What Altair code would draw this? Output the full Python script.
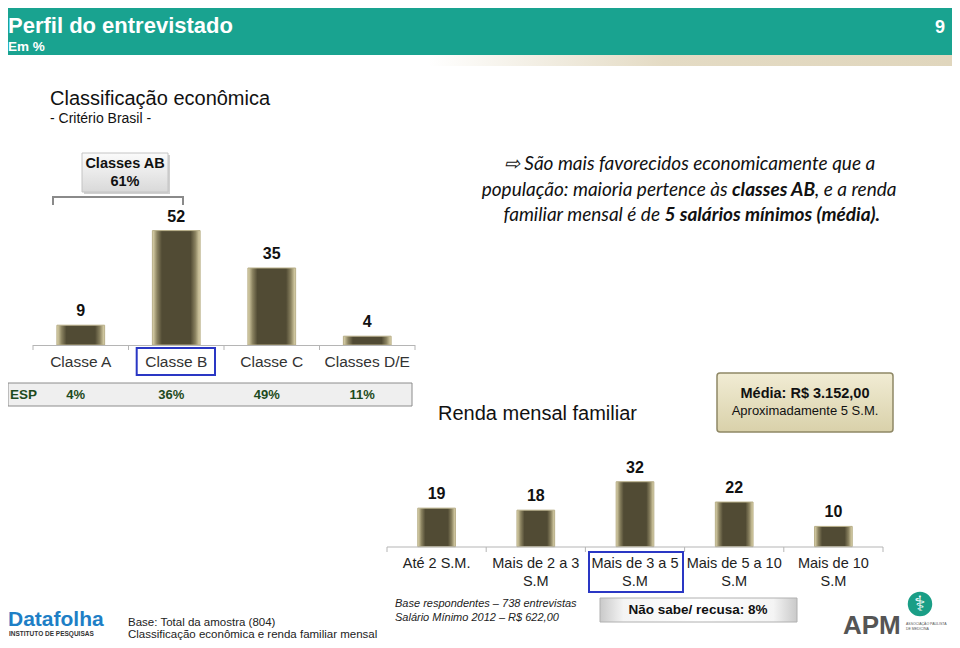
import altair as alt
import pandas as pd

# ---------------- data ----------------
classes = ["Classe A", "Classe B", "Classe C", "Classes D/E"]
classes_pct = [9, 52, 35, 4]
esp_pct = ["4%", "36%", "49%", "11%"]

renda_faixas = ["Até 2 S.M.", "Mais de 2 a 3\nS.M", "Mais de 3 a 5\nS.M",
                "Mais de 5 a 10\nS.M", "Mais de 10\nS.M"]
renda_pct = [19, 18, 32, 22, 10]

FONT = "Liberation Sans"
CALLOUT_FONT = "Lato"

df_cls = pd.DataFrame({"classe": classes, "pct": classes_pct, "esp": esp_pct})
df_ren = pd.DataFrame({"faixa": renda_faixas, "pct": renda_pct})
one = pd.DataFrame({"k": [0]})

# ---------------- scales ----------------
x_cls = alt.Scale(domain=classes, range=[25, 407], paddingInner=0.5, paddingOuter=0.25)
x_cls_grid = alt.Scale(domain=classes, range=[25, 407], paddingInner=0, paddingOuter=0)
y_cls = alt.Scale(domain=[0, 60], range=[337, 337 - 60 * 2.2])

x_ren = alt.Scale(domain=renda_faixas, range=[379, 875], paddingInner=0.62, paddingOuter=0.31)
x_ren_grid = alt.Scale(domain=renda_faixas, range=[379, 875], paddingInner=0, paddingOuter=0)
y_ren = alt.Scale(domain=[0, 40], range=[538.7, 538.7 - 40 * 2.03])


def grad(stops, horizontal=True):
    return alt.Gradient(
        gradient="linear",
        x1=0, y1=0,
        x2=1 if horizontal else 0,
        y2=0 if horizontal else 1,
        stops=[alt.GradientStop(offset=o, color=c) for o, c in stops],
    )


bar_fill = grad([(0, "#e2d9b0"), (0.1, "#8a8260"), (0.2, "#514b34"),
                 (0.8, "#514b34"), (0.9, "#8a8260"), (1, "#e2d9b0")])


def rect(x, x2, y, y2, **kw):
    return alt.Chart(one).mark_rect(**kw).encode(
        x=alt.value(x), x2=alt.value(x2), y=alt.value(y), y2=alt.value(y2))


def label(txt, x, y, size=13, weight="normal", color="#222", align="left",
          baseline="alphabetic", font=FONT, style="normal"):
    return alt.Chart(one).mark_text(
        text=txt, font=font, fontSize=size, fontWeight=weight, color=color,
        align=align, baseline=baseline, fontStyle=style,
    ).encode(x=alt.value(x), y=alt.value(y))


def hrule(x, x2, y, color="#b5b5b5", width=1):
    return alt.Chart(one).mark_rule(color=color, strokeWidth=width).encode(
        x=alt.value(x), x2=alt.value(x2), y=alt.value(y))


def vrule(x, y, y2, color="#b5b5b5", width=1):
    return alt.Chart(one).mark_rule(color=color, strokeWidth=width).encode(
        x=alt.value(x), y=alt.value(y), y2=alt.value(y2))


layers = []

# ---------------- header ----------------
layers.append(rect(0, 944, 0, 47, fill="#19a390"))
layers.append(rect(420, 944, 47, 58,
                   fill=grad([(0, "#ffffff"), (0.45, "#e4dbc4"), (1, "#e0d6bd")])))
layers.append(label("Perfil do entrevistado", 0, 25, size=22, weight="bold", color="white"))
layers.append(label("Em %", 0, 43, size=13.5, weight="bold", color="white"))
layers.append(label("9", 937, 25, size=18, weight="bold", color="white", align="right"))

layers.append(label("Classificação econômica", 42, 97, size=20, color="#111"))
layers.append(label("- Critério Brasil -", 42, 115, size=14, color="#111"))

# ---------------- Classes AB callout ----------------
layers.append(rect(76, 162, 147, 186, fill="#d0d0d0"))
layers.append(rect(74, 160, 145, 184,
                   fill=grad([(0, "#fbfbfb"), (1, "#d9d9d9")], horizontal=False),
                   stroke="#c4c4c4", strokeWidth=1))
layers.append(label("Classes AB", 117, 160, size=14.5, weight="bold", align="center", color="#111"))
layers.append(label("61%", 117, 178, size=14.5, weight="bold", align="center", color="#111"))
layers.append(hrule(45, 175, 189, color="#8a8a8a", width=2))
layers.append(vrule(45, 188, 197, color="#8a8a8a", width=2))
layers.append(vrule(175, 188, 197, color="#8a8a8a", width=2))

# ---------------- left bar chart ----------------
layers.append(alt.Chart(df_cls).mark_bar(fill=bar_fill, stroke="#b8af88", strokeWidth=1).encode(
    x=alt.X("classe:N", scale=x_cls, axis=None),
    y=alt.Y("pct:Q", scale=y_cls, axis=None),
))
layers.append(alt.Chart(df_cls).mark_text(
    font=FONT, fontSize=16, fontWeight="bold", baseline="middle", dy=-14, color="#111"
).encode(
    x=alt.X("classe:N", scale=x_cls, axis=None),
    y=alt.Y("pct:Q", scale=y_cls, axis=None),
    text="pct:Q",
))
layers.append(hrule(25, 407, 337.5))
layers.append(alt.Chart(df_cls).mark_rule(color="#b5b5b5").encode(
    x=alt.X("classe:N", scale=x_cls_grid, axis=None, bandPosition=0),
    y=alt.value(337), y2=alt.value(342),
))
layers.append(vrule(407, 337, 342))
layers.append(alt.Chart(df_cls).mark_text(
    font=FONT, fontSize=15.5, color="#333", baseline="middle"
).encode(
    x=alt.X("classe:N", scale=x_cls, axis=None),
    y=alt.value(354),
    text="classe:N",
))
layers.append(rect(128.7, 207, 340, 367, fill="transparent", stroke="#2a37c4", strokeWidth=2))

# ESP row
layers.append(rect(0, 404, 375, 398, fill="#efefef", stroke="#8c8c8c", strokeWidth=1))
layers.append(label("ESP", 2, 387, size=13.5, weight="bold", color="#1d4a20", baseline="middle"))
layers.append(alt.Chart(df_cls).mark_text(
    font=FONT, fontSize=13, fontWeight="bold", color="#1d4a20", baseline="middle", dx=-5
).encode(
    x=alt.X("classe:N", scale=x_cls, axis=None),
    y=alt.value(387),
    text="esp:N",
))

# ---------------- callout text ----------------
CS = 19
layers.append(label("⇨ São mais favorecidos economicamente que a", 681.5, 162,
                    size=CS, font=CALLOUT_FONT, style="italic", align="center", color="#111"))
layers.append(label("população: maioria pertence às", 719.5, 188, align="right",
                    size=CS, font=CALLOUT_FONT, style="italic", color="#111"))
layers.append(label("classes AB", 724, 188, size=CS, font=CALLOUT_FONT, style="italic",
                    weight="bold", color="#111"))
layers.append(label(", e a renda", 807, 188, size=CS, font=CALLOUT_FONT, style="italic", color="#111"))
layers.append(label("familiar mensal é de", 652, 213, align="right",
                    size=CS, font=CALLOUT_FONT, style="italic", color="#111"))
layers.append(label("5 salários mínimos (média).", 656.5, 213, size=CS, font=CALLOUT_FONT,
                    style="italic", weight="bold", color="#111"))

# ---------------- renda header ----------------
layers.append(label("Renda mensal familiar", 430, 406, size=20, color="#111", baseline="middle"))
layers.append(rect(709, 885, 365, 424,
                   fill=grad([(0, "#f1ecd4"), (1, "#d9d1aa")], horizontal=False),
                   stroke="#8f8866", strokeWidth=1.5, cornerRadius=3))
layers.append(label("Média: R$ 3.152,00", 797, 386, size=14.5, weight="bold",
                    align="center", baseline="middle", color="#111"))
layers.append(label("Aproximadamente 5 S.M.", 797, 403, size=13, align="center",
                    baseline="middle", color="#111"))

# ---------------- right bar chart ----------------
layers.append(alt.Chart(df_ren).mark_bar(fill=bar_fill, stroke="#b8af88", strokeWidth=1).encode(
    x=alt.X("faixa:N", scale=x_ren, axis=None),
    y=alt.Y("pct:Q", scale=y_ren, axis=None),
))
layers.append(alt.Chart(df_ren).mark_text(
    font=FONT, fontSize=16, fontWeight="bold", baseline="middle", dy=-14, color="#111"
).encode(
    x=alt.X("faixa:N", scale=x_ren, axis=None),
    y=alt.Y("pct:Q", scale=y_ren, axis=None),
    text="pct:Q",
))
layers.append(hrule(379, 875, 539))
layers.append(alt.Chart(df_ren).mark_rule(color="#b5b5b5").encode(
    x=alt.X("faixa:N", scale=x_ren_grid, axis=None, bandPosition=0),
    y=alt.value(539), y2=alt.value(544),
))
layers.append(vrule(875, 539, 544))
layers.append(alt.Chart(df_ren).mark_text(
    font=FONT, fontSize=14.5, color="#222", baseline="top", lineBreak="\n", lineHeight=18
).encode(
    x=alt.X("faixa:N", scale=x_ren, axis=None),
    y=alt.value(549),
    text="faixa:N",
))
layers.append(rect(581, 675, 544, 584, fill="transparent", stroke="#2a37c4", strokeWidth=2))

# ---------------- footer ----------------
layers.append(label("Datafolha", 0, 618, size=21, weight="bold", color="#1e7fc6"))
layers.append(label("INSTITUTO DE PESQUISAS", 1, 628, size=6.5, weight="bold", color="#333"))
layers.append(label("Base: Total da amostra (804)", 120, 615, size=11.5, baseline="middle"))
layers.append(label("Classificação econômica e renda familiar mensal", 120, 627, size=11.5,
                    baseline="middle"))
layers.append(label("Base respondentes – 738 entrevistas", 387, 596, size=11, style="italic",
                    baseline="middle"))
layers.append(label("Salário Mínimo 2012 – R$ 622,00", 387, 610, size=11, style="italic",
                    baseline="middle"))
layers.append(rect(592, 789, 590, 614,
                   fill=grad([(0, "#c9c9c9"), (0.12, "#f4f4f4"), (0.5, "#ffffff"),
                              (0.88, "#f4f4f4"), (1, "#c9c9c9")]),
                   stroke="#b0b0b0", strokeWidth=1))
layers.append(label("Não sabe/ recusa: 8%", 690, 602, size=13.5, weight="bold",
                    align="center", baseline="middle", color="#111"))

# APM logo
layers.append(alt.Chart(one).mark_circle(size=600, color="#1a9e86", opacity=1).encode(
    x=alt.value(912), y=alt.value(596)))
layers.append(label("⚕", 912, 597, size=21, color="white", align="center", baseline="middle",
                    font="DejaVu Sans"))
layers.append(label("APM", 835, 626, size=26, weight="bold", color="#555555"))
layers.append(label("ASSOCIAÇÃO PAULISTA", 898, 617, size=3.5, color="#555"))
layers.append(label("DE MEDICINA", 898, 622, size=3.5, color="#555"))

chart = alt.layer(*layers).resolve_scale(
    x="independent", y="independent"
).properties(
    width=944, height=632,
    autosize=alt.AutoSizeParams(type="none"),
    padding=0,
).configure_view(strokeWidth=0)

chart.save("out.html", embed_options={"renderer": "svg", "actions": False})
